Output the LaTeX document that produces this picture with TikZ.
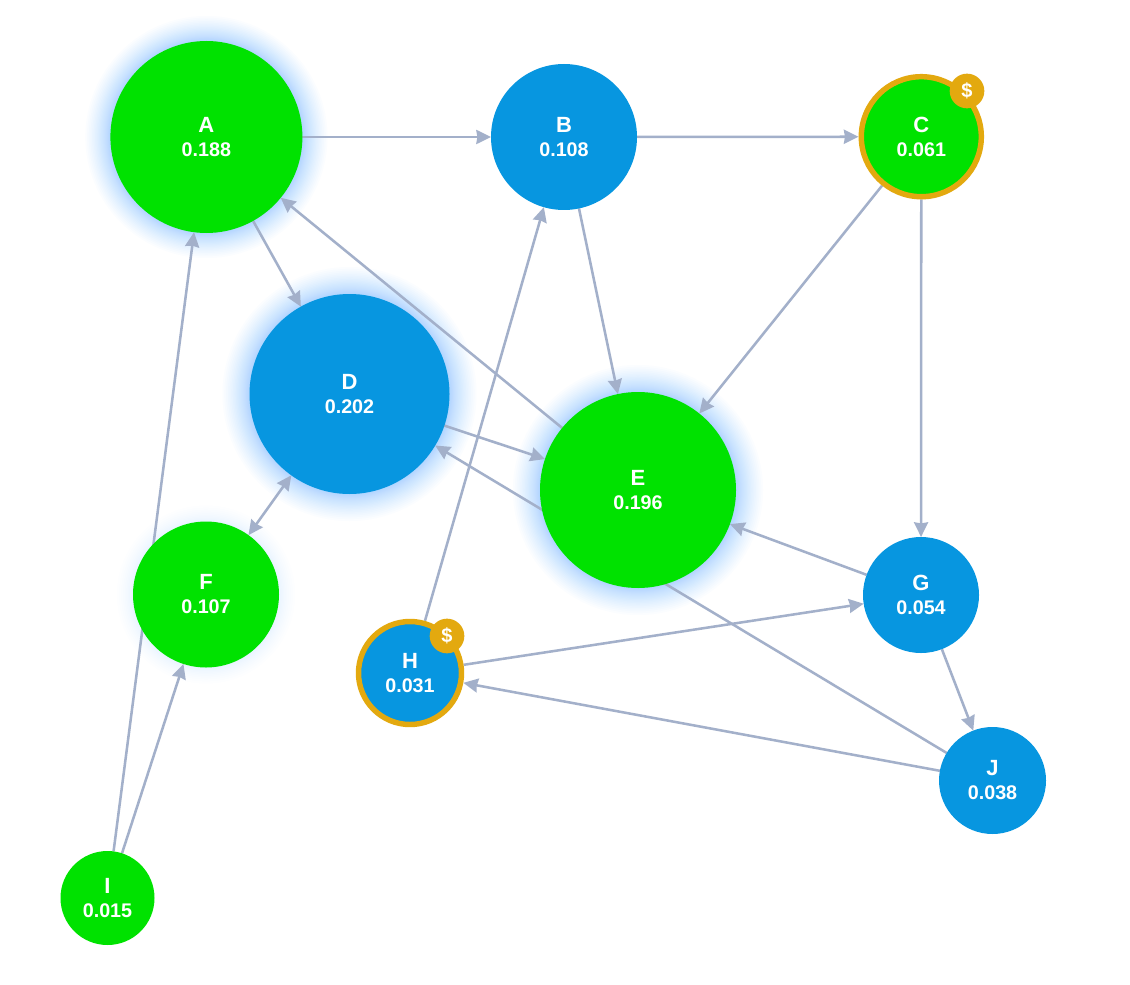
\documentclass[tikz,border=0pt]{standalone}
\usepackage{fontspec}
\setmainfont{Liberation Sans}
\usetikzlibrary{arrows.meta}
\pgfdeclarelayer{glowlayer}
\pgfdeclarelayer{edgelayer}
\pgfsetlayers{glowlayer,edgelayer,main}
\definecolor{nodegreen}{HTML}{00E200}
\definecolor{nodeblue}{HTML}{0796E0}
\definecolor{edgecol}{HTML}{A3B0CA}
\definecolor{ringcol}{HTML}{E3A90F}
\definecolor{glowcol}{HTML}{55B0FF}
\newcommand{\nlab}[2]{{\fontsize{16.5}{18}\selectfont #1}\\{\fontsize{14.8}{18}\selectfont #2}}
\newcommand{\glowat}[6]{% x, y, radius, reach, steps, opacity
  \foreach \k in {1,...,#5}{
    \pgfmathsetmacro{\rr}{#3+#4*pow(\k/#5,2)}
    \fill[glowcol,opacity=#6] (#1,#2) circle (\rr);
  }}
\tikzset{
  vertex/.style={circle,inner sep=0pt,outer sep=0pt,text=white,align=center,
    font=\bfseries\fontsize{16.5}{18}\selectfont,minimum size=#1*1.5pt},
  gnode/.style={vertex=#1,fill=nodegreen},
  bnode/.style={vertex=#1,fill=nodeblue},
  ringed/.style={draw=ringcol,line width=4.1pt,outer sep=2.05pt},
  badge/.style={circle,inner sep=0pt,outer sep=0pt,fill=ringcol,text=white,
    minimum size=26pt,font=\bfseries\fontsize{15}{15}\selectfont},
  edge/.style={draw=edgecol,line width=1.9pt,-{Stealth[length=11pt,width=10.5pt,inset=.8pt]}},
  biedge/.style={draw=edgecol,line width=1.9pt,{Stealth[length=11pt,width=10.5pt,inset=.8pt]}-{Stealth[length=11pt,width=10.5pt,inset=.8pt]}}
}
\begin{document}
\begin{tikzpicture}[x=.75pt,y=-.75pt]
\useasboundingbox (0,0) rectangle (1130,984);
\begin{pgfonlayer}{glowlayer}
  \fill[white] (0,0) rectangle (1130,984);
  \glowat{206.4}{137}{94}{27}{30}{.022}
  \glowat{349.5}{394}{98}{29}{30}{.022}
  \glowat{638}{490}{96}{29}{30}{.022}
  \glowat{206}{594.5}{71}{18}{16}{.012}
\end{pgfonlayer}
\node[gnode=96]   (A) at (206.4,137) {\nlab{A}{0.188}};
\node[bnode=73]   (B) at (564,137)   {\nlab{B}{0.108}};
\node[gnode=60,ringed] (C) at (921.3,136.7) {\nlab{C}{0.061}};
\node[bnode=100]  (D) at (349.5,394) {\nlab{D}{0.202}};
\node[gnode=98]   (E) at (638,490)   {\nlab{E}{0.196}};
\node[gnode=73]   (F) at (206,594.5) {\nlab{F}{0.107}};
\node[bnode=58]   (G) at (921,595)   {\nlab{G}{0.054}};
\node[bnode=51.5,ringed] (H) at (410,673) {\nlab{H}{0.031}};
\node[gnode=47]   (I) at (107.5,898) {\nlab{I}{0.015}};
\node[bnode=53.5] (J) at (992.5,780.5) {\nlab{J}{0.038}};
\node[badge] (Cb) at (967,91)  {\$};
\node[badge] (Hb) at (447,636) {\$};
\begin{pgfonlayer}{edgelayer}
  \draw[edge] (A) -- (B);
  \draw[edge] (B) -- (C);
  \draw[edge] (A) -- (D);
  \draw[edge] (E) -- (A);
  \draw[edge] (I) -- (A);
  \draw[edge] (I) -- (F);
  \draw[biedge] (F) -- (D);
  \draw[edge] (H) -- (B);
  \draw[edge] (B) -- (E);
  \draw[edge] (C) -- (E);
  \draw[edge] (C) -- (G);
  \draw[edge] (D) -- (E);
  \draw[edge] (J) -- (D);
  \draw[edge] (G) -- (E);
  \draw[edge] (H) -- (G);
  \draw[edge] (G) -- (J);
  \draw[edge] (J) -- (H);
\end{pgfonlayer}
\end{tikzpicture}
\end{document}
